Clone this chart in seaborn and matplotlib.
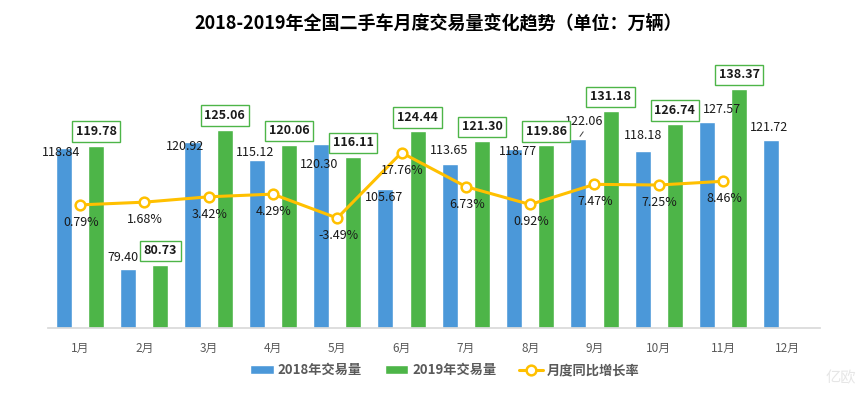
import numpy as np
import pandas as pd
import matplotlib.pyplot as plt
import seaborn as sns

# 数据
months = ['1月', '2月', '3月', '4月', '5月', '6月', '7月', '8月', '9月', '10月', '11月', '12月']
vol_2018 = [118.84, 79.40, 120.92, 115.12, 120.30, 105.67, 113.65, 118.77, 122.06, 118.18, 127.57, 121.72]
vol_2019 = [119.78, 80.73, 125.06, 120.06, 116.11, 124.44, 121.30, 119.86, 131.18, 126.74, 138.37]
growth = [0.79, 1.68, 3.42, 4.29, -3.49, 17.76, 6.73, 0.92, 7.47, 7.25, 8.46]

# 2018 标签的手动偏移（像素）
off_2018 = [(-3, -4), (-5, 11), (-7, -4), (-2, 7), (-2, -20), (-1, -9),
            (-1, 14), (4, -3), (6, 17), (0, 15), (15, 12), (-2, 12)]

blue = '#4b98d9'
green = '#4db548'
yellow = '#ffc000'
grey = '#595959'

sns.set_theme(style='white')
plt.rcParams['font.family'] = ['Noto Sans CJK SC', 'DejaVu Sans']

fig = plt.figure(figsize=(8.67, 3.95), dpi=100)
ax = fig.add_axes([0.0551, 0.1696, 0.8902, 0.7291])

x = np.arange(len(months))
w = 0.25

df18 = pd.DataFrame({'x': x - w, 'v': vol_2018})
df19 = pd.DataFrame({'x': x[:len(vol_2019)] + w, 'v': vol_2019})

ax.bar(df18['x'], df18['v'] - 60, bottom=60, width=w, color=blue, label='2018年交易量')
ax.bar(df19['x'], df19['v'] - 60, bottom=60, width=w, color=green, label='2019年交易量')
ax.set_xlim(-0.5, 11.5)
ax.set_ylim(60, 154.4)

for xi, v, (dx, dy) in zip(df18['x'], vol_2018, off_2018):
    ax.annotate(f'{v:.2f}', (xi, v), xytext=(dx, dy), textcoords='offset pixels',
                ha='center', va='center', fontsize=9, color='#1a1a1a')
    if xi == 8 - w:
        ax.annotate('', (xi, v), xytext=(xi + 0.1, v + 3),
                    arrowprops=dict(arrowstyle='-', color='#404040', lw=0.7))

for xi, v in zip(df19['x'], vol_2019):
    ax.annotate(f'{v:.2f}', (xi, v), xytext=(0, 14), textcoords='offset pixels',
                ha='center', va='center', fontsize=9, fontweight='bold', color='#1a1a1a',
                bbox=dict(boxstyle='square,pad=0.3', fc='white', ec=green, lw=1))

ax2 = ax.twinx()
sns.lineplot(x=x[:len(growth)], y=growth, ax=ax2, color=yellow, lw=2.2, marker='o',
             markersize=7, markerfacecolor='white', markeredgecolor=yellow,
             markeredgewidth=1.8, label='月度同比增长率', legend=False)
ax2.set_ylim(-39.2, 54.35)
for xi, g in zip(x, growth):
    ax2.annotate(f'{g:.2f}%', (xi, g), xytext=(1, -17.5), textcoords='offset pixels',
                 ha='center', va='center', fontsize=9, color='#1a1a1a')

for a in (ax, ax2):
    for s in a.spines.values():
        s.set_visible(False)
    a.set_yticks([])
    a.set_ylabel('')
ax.spines['bottom'].set_visible(True)
ax.spines['bottom'].set_color('#d9d9d9')
ax.set_xticks(x)
ax.set_xticklabels(months, fontsize=8.5, color=grey)
ax.tick_params(axis='x', length=0, pad=10)

fig.suptitle('2018-2019年全国二手车月度交易量变化趋势（单位：万辆）', x=0.505, y=0.965,
             fontsize=13, fontweight='bold', color='black')

h1, l1 = ax.get_legend_handles_labels()
h2, l2 = ax2.get_legend_handles_labels()
leg = fig.legend(h1 + h2, l1 + l2, loc='center', bbox_to_anchor=(0.513, 0.063), ncol=3,
                 frameon=False, prop={'weight': 'bold', 'size': 9.5},
                 handlelength=1.8, handleheight=0.6, handletextpad=0.3, columnspacing=1.7)
for t in leg.get_texts():
    t.set_color(grey)

# 水印
fig.text(0.970, 0.043, '亿欧', fontsize=11, color='#e6e6e6', ha='center', va='center')

fig.savefig('out.png', dpi=100)
